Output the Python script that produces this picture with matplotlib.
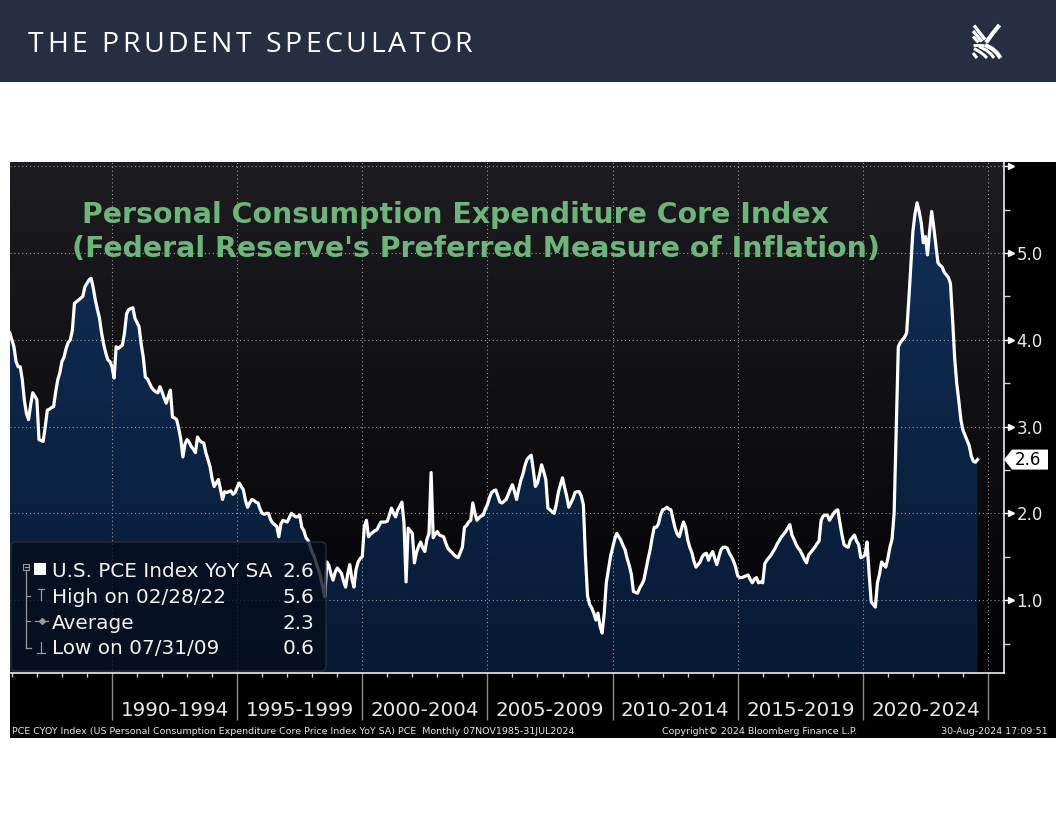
import numpy as np
import matplotlib
matplotlib.use("Agg")
import matplotlib.pyplot as plt
from matplotlib.patches import Rectangle, Polygon, FancyBboxPatch
from matplotlib.lines import Line2D
from matplotlib.colors import LinearSegmentedColormap
from matplotlib.transforms import blended_transform_factory, ScaledTranslation, Affine2D

# ---------------- data (monthly core PCE YoY %, Nov 1985 - Jul 2024) ----------------
pce_1985_1989 = [
    4.08, 4.00,
    3.92, 3.75, 3.69, 3.69, 3.54, 3.30, 3.15, 3.08, 3.25, 3.39, 3.35, 3.31,
    2.85, 2.84, 2.83, 3.00, 3.19, 3.20, 3.22, 3.23, 3.40, 3.54, 3.62, 3.75,
    3.80, 3.90, 3.97, 4.00, 4.11, 4.42, 4.44, 4.46, 4.48, 4.50, 4.61, 4.65,
    4.69, 4.71, 4.60, 4.46, 4.35, 4.25, 4.08, 3.95, 3.85, 3.77, 3.75, 3.69,
]
pce_1990_1994 = [
    3.56, 3.92, 3.90, 3.92, 3.94, 4.08, 4.30, 4.35, 4.36, 4.37, 4.25, 4.20,
    4.15, 3.95, 3.80, 3.57, 3.55, 3.50, 3.45, 3.42, 3.40, 3.39, 3.46, 3.40,
    3.33, 3.27, 3.35, 3.42, 3.11, 3.10, 3.08, 2.98, 2.85, 2.65, 2.80, 2.85,
    2.82, 2.77, 2.74, 2.70, 2.88, 2.84, 2.82, 2.81, 2.70, 2.62, 2.54, 2.40,
    2.31, 2.35, 2.39, 2.28, 2.16, 2.25, 2.24, 2.25, 2.26, 2.22, 2.24, 2.30,
]
pce_1995_1999 = [
    2.35, 2.31, 2.27, 2.15, 2.07, 2.12, 2.16, 2.15, 2.13, 2.12, 2.05, 2.00,
    1.99, 2.00, 2.00, 1.93, 1.89, 1.87, 1.85, 1.73, 1.88, 1.92, 1.91, 1.90,
    1.95, 2.00, 1.98, 1.96, 1.96, 1.98, 1.84, 1.80, 1.72, 1.69, 1.62, 1.55,
    1.50, 1.42, 1.35, 1.27, 1.15, 1.04, 1.44, 1.40, 1.30, 1.23, 1.32, 1.37,
    1.34, 1.31, 1.22, 1.15, 1.30, 1.41, 1.25, 1.15, 1.35, 1.44, 1.48, 1.50,
]
pce_2000_2004 = [
    1.85, 1.92, 1.73, 1.76, 1.78, 1.80, 1.81, 1.86, 1.90, 1.90, 1.90, 1.91,
    1.98, 2.06, 2.00, 1.96, 2.04, 2.08, 2.13, 1.89, 1.21, 1.83, 1.80, 1.77,
    1.43, 1.55, 1.62, 1.67, 1.60, 1.56, 1.70, 1.77, 2.47, 1.72, 1.76, 1.79,
    1.75, 1.74, 1.73, 1.66, 1.60, 1.57, 1.55, 1.52, 1.50, 1.49, 1.55, 1.61,
    1.84, 1.86, 1.90, 1.92, 2.12, 2.00, 1.92, 1.95, 1.97, 1.98, 2.05, 2.10,
]
pce_2005_2009 = [
    2.18, 2.24, 2.26, 2.27, 2.20, 2.13, 2.12, 2.14, 2.16, 2.22, 2.28, 2.33,
    2.25, 2.16, 2.28, 2.38, 2.45, 2.55, 2.62, 2.65, 2.67, 2.50, 2.31, 2.35,
    2.45, 2.56, 2.48, 2.39, 2.06, 2.04, 2.02, 2.00, 2.10, 2.24, 2.33, 2.41,
    2.30, 2.20, 2.07, 2.12, 2.17, 2.24, 2.25, 2.25, 2.20, 2.10, 1.50, 1.05,
    0.95, 0.91, 0.85, 0.77, 0.85, 0.70, 0.62, 0.85, 1.20, 1.35, 1.50, 1.60,
]
pce_2010_2014 = [
    1.70, 1.77, 1.73, 1.69, 1.63, 1.58, 1.48, 1.40, 1.30, 1.10, 1.09, 1.08,
    1.14, 1.18, 1.23, 1.35, 1.47, 1.58, 1.72, 1.84, 1.84, 1.88, 1.98, 2.04,
    2.05, 2.07, 2.05, 2.04, 1.93, 1.83, 1.76, 1.73, 1.82, 1.90, 1.84, 1.70,
    1.61, 1.55, 1.45, 1.38, 1.41, 1.44, 1.50, 1.53, 1.54, 1.46, 1.52, 1.56,
    1.48, 1.41, 1.50, 1.58, 1.61, 1.61, 1.60, 1.54, 1.50, 1.45, 1.38, 1.28,
]
pce_2015_2019 = [
    1.26, 1.26, 1.27, 1.28, 1.29, 1.24, 1.20, 1.24, 1.26, 1.20, 1.21, 1.20,
    1.42, 1.46, 1.49, 1.52, 1.56, 1.60, 1.65, 1.69, 1.73, 1.76, 1.79, 1.83,
    1.87, 1.75, 1.70, 1.64, 1.60, 1.57, 1.52, 1.47, 1.43, 1.52, 1.55, 1.58,
    1.61, 1.65, 1.68, 1.92, 1.97, 1.98, 1.98, 1.92, 1.96, 2.00, 2.03, 2.04,
    1.89, 1.75, 1.64, 1.62, 1.61, 1.69, 1.72, 1.75, 1.68, 1.64, 1.49, 1.50,
]
pce_2020_2024 = [
    1.52, 1.67, 1.31, 0.98, 0.95, 0.92, 1.20, 1.30, 1.44, 1.41, 1.38, 1.48,
    1.61, 1.70, 2.00, 2.95, 3.92, 3.97, 4.00, 4.03, 4.08, 4.45, 4.85, 5.25,
    5.45, 5.58, 5.48, 5.35, 5.12, 5.19, 4.98, 5.25, 5.48, 5.30, 5.10, 4.89,
    4.86, 4.84, 4.78, 4.75, 4.72, 4.65, 4.25, 3.80, 3.50, 3.30, 3.08, 2.96,
    2.90, 2.84, 2.78, 2.66, 2.60, 2.59, 2.62,
]
first_month = 1985 + 11 / 12          # Nov 1985 (month-end position)

series_label = "U.S. PCE Index YoY SA"
legend_labels = ["High on 02/28/22", "Average", "Low on 07/31/09"]
period_edges = [1990, 1995, 2000, 2005, 2010, 2015, 2020, 2025]
period_labels = ["1990-1994", "1995-1999", "2000-2004", "2005-2009",
                 "2010-2014", "2015-2019", "2020-2024"]
year_ticks = list(range(1986, 2026))
y_ticks = [1, 2, 3, 4, 5, 6]
y_tick_labels = ["1.0", "2.0", "3.0", "4.0", "5.0", ""]
y_minor = [0.5, 1.5, 2.5, 3.5, 4.5, 5.5]

title_lines = ["Personal Consumption Expenditure Core Index",
               "(Federal Reserve's Preferred Measure of Inflation)"]
header_text = "THE PRUDENT SPECULATOR"
footer_left = ("PCE CYOY Index (US Personal Consumption Expenditure Core Price Index "
               "YoY SA) PCE  Monthly 07NOV1985-31JUL2024")
footer_mid = "Copyright\u00a9 2024 Bloomberg Finance L.P."
footer_right = "30-Aug-2024 17:09:51"

# ---------------- build ----------------
vals = np.array(pce_1985_1989 + pce_1990_1994 + pce_1995_1999 + pce_2000_2004 +
                pce_2005_2009 + pce_2010_2014 + pce_2015_2019 + pce_2020_2024)
t = first_month + np.arange(len(vals)) / 12.0

W, H = 1056, 816
fig = plt.figure(figsize=(W / 100, H / 100), dpi=100)
fig.patch.set_facecolor("white")
PX = Affine2D().scale(1, -1).translate(0, H)   # pixel coords, y downward

# header band and chart background
fig.add_artist(Rectangle((0, 0), W, 82, transform=PX, facecolor="#262e42",
                         edgecolor="none", zorder=-5))
fig.add_artist(Rectangle((10, 162), W - 10, 738 - 162, transform=PX,
                         facecolor="black", edgecolor="none", zorder=-5))

ax_l, ax_r, ax_t, ax_b = 10, 1004, 162, 673
ax = fig.add_axes([ax_l / W, 1 - ax_b / H, (ax_r - ax_l) / W, (ax_b - ax_t) / H])
xl, xr = 1985.925, 2025.64
yb, yt = 0.16, 6.05
ax.set_xlim(xl, xr)
ax.set_ylim(yb, yt)
ax.set_facecolor("black")

grad = np.linspace(0, 1, 256)[:, None]
bg_cmap = LinearSegmentedColormap.from_list("bg", ["#020204", "#1d1d21"])
ax.imshow(grad, extent=[xl, xr, yb, yt], origin="lower", cmap=bg_cmap,
          aspect="auto", zorder=0, interpolation="bicubic")

fill_cmap = LinearSegmentedColormap.from_list("fill", ["#071a34", "#11305a"])
fim = ax.imshow(grad, extent=[xl, xr, yb, yt], origin="lower", cmap=fill_cmap,
                aspect="auto", zorder=1, interpolation="bicubic")
verts = [(t[0], yb)] + list(zip(t, vals)) + [(t[-1], yb)]
clip_poly = Polygon(verts, closed=True, facecolor="none", edgecolor="none",
                    transform=ax.transData)
ax.add_patch(clip_poly)
fim.set_clip_path(clip_poly)

# dotted grid
for yv in y_ticks:
    ax.axhline(yv, color="#9a9a9a", lw=0.8, ls=(0, (1, 2.5)), zorder=2)
for xv in period_edges:
    ax.axvline(xv, color="#9a9a9a", lw=0.8, ls=(0, (1, 2.5)), zorder=2)

ax.plot(t, vals, color="white", lw=2.3, zorder=3, solid_joinstyle="round")
ax.set_xlim(xl, xr)
ax.set_ylim(yb, yt)

# spines
for s in ["top", "left"]:
    ax.spines[s].set_visible(False)
for s in ["right", "bottom"]:
    ax.spines[s].set_color("white")
    ax.spines[s].set_linewidth(1.1)

# x ticks
ax.set_xticks(period_edges)
ax.set_xticks([y for y in year_ticks if y not in period_edges], minor=True)
ax.tick_params(axis="x", which="major", length=34, width=1, color="#8a8a8a",
               labelbottom=False, direction="out")
ax.tick_params(axis="x", which="minor", length=3, width=1, color="#d0d0d0",
               direction="out")
xlab_tr = blended_transform_factory(ax.transData, PX)
for i, lab in enumerate(period_labels):
    mid = (period_edges[i] + period_edges[i + 1]) / 2
    ax.text(mid, 716, lab, transform=xlab_tr, ha="center", va="baseline",
            fontsize=14.3, color="#e6e6e6", family="DejaVu Sans", clip_on=False)

# y ticks on the right
ax.yaxis.set_ticks_position("right")
ax.set_yticks(y_ticks)
ax.set_yticklabels(y_tick_labels)
ax.set_yticks(y_minor, minor=True)
ax.tick_params(axis="y", which="major", length=5, width=1, color="white",
               labelcolor="#e8e8e8", labelsize=12, pad=4, right=True, left=False,
               labelright=True, labelleft=False, direction="out")
ax.tick_params(axis="y", which="minor", length=4, width=1, color="#d0d0d0",
               right=True, left=False, direction="out")
ytr = blended_transform_factory(ax.transAxes, ax.transData)
ax.plot([1 + 7 / 994] * len(y_ticks), y_ticks, transform=ytr, ls="none",
        marker=">", ms=4.5, color="white", clip_on=False, zorder=6)

# last value tag
last = vals[-1]
tag = Polygon([(0, 0), (8, 10), (44, 10), (44, -10), (8, -10)], closed=True,
              facecolor="white", edgecolor="none",
              transform=Affine2D() + ScaledTranslation(1.0, last, ytr),
              clip_on=False, zorder=7)
ax.add_patch(tag)
ax.annotate(f"{last:.1f}", xy=(1.0, last), xycoords=ytr, xytext=(11, 0),
            textcoords="offset pixels", ha="left", va="center", fontsize=12,
            color="black", annotation_clip=False, zorder=8)

# title
green = "#6cb679"
fig.text(82, 223, title_lines[0], transform=PX, fontsize=20.4, fontweight="bold",
         family="DejaVu Sans", color=green, va="baseline", ha="left")
fig.text(72, 257, title_lines[1], transform=PX, fontsize=20.4, fontweight="bold",
         family="DejaVu Sans", color=green, va="baseline", ha="left")

# legend box
fig.add_artist(FancyBboxPatch((11, 542), 315, 129,
                              boxstyle="round,pad=0,rounding_size=5",
                              transform=PX, facecolor="#050d1a", alpha=0.78,
                              edgecolor="#2c3342", lw=1.0, zorder=5))
stats = [vals.max(), vals.mean(), vals.min()]
rows_y = [577, 603, 629, 654]
lkw = dict(transform=PX, fontsize=14.4, color="#f2f2f2", family="DejaVu Sans",
           va="baseline", zorder=6)
fig.text(52, rows_y[0], series_label, ha="left", **lkw)
fig.text(314, rows_y[0], f"{last:.1f}", ha="right", **lkw)
for lab, v, yy in zip(legend_labels, stats, rows_y[1:]):
    fig.text(52, yy, lab, ha="left", **lkw)
    fig.text(314, yy, f"{v:.1f}", ha="right", **lkw)

icon = "#9a9a9a"
def pline(xs, ys, c=icon, lw=0.9, **kw):
    fig.add_artist(Line2D(xs, ys, transform=PX, color=c, lw=lw, zorder=6, **kw))
fig.add_artist(Rectangle((23, 564), 6, 6, transform=PX, facecolor="none",
                         edgecolor=icon, lw=0.8, zorder=6))
pline([24.5, 27.5], [567, 567])
fig.add_artist(Rectangle((34, 563), 12, 12, transform=PX, facecolor="white",
                         edgecolor="none", zorder=6))
pline([26, 26], [570, 648])
pline([26, 30], [596, 596])
pline([26, 30], [621, 621])
pline([26, 31], [648, 648])
pline([38, 44], [589, 589])
pline([41, 41], [589, 600])
pline([35, 48], [621, 621])
pline([41.5], [621], marker="D", ms=3, ls="none")
pline([41, 41], [642, 653])
pline([37, 45], [653, 653])

# footer
fkw = dict(transform=PX, fontsize=6.8, color="#e6e6e6", family="DejaVu Sans",
           va="baseline")
fig.text(12, 734, footer_left, ha="left", **fkw)
fig.text(662, 734, footer_mid, ha="left", **fkw)
fig.text(1048, 734, footer_right, ha="right", **fkw)

# header text with letter tracking
renderer = fig.canvas.get_renderer()
hkw = dict(fontsize=20.5, family=["Open Sans", "DejaVu Sans"], color="white")
def advance(s):
    a = fig.text(0, 0, s + "|", transform=PX, **hkw)
    b = fig.text(0, 0, "|", transform=PX, **hkw)
    w = a.get_window_extent(renderer).width - b.get_window_extent(renderer).width
    a.remove(); b.remove()
    return w
natural = advance(header_text)
track = (444 - natural) / (len(header_text) - 1)
for k, ch in enumerate(header_text):
    if ch == " ":
        continue
    fig.text(28 + advance(header_text[:k]) + k * track, 52.5, ch, transform=PX,
             va="baseline", ha="left", **hkw)

# logo (stylised striped K)
def stroke(xs, ys, lw=2.2):
    fig.add_artist(Line2D(xs, ys, transform=PX, color="white", lw=lw,
                          solid_capstyle="butt", solid_joinstyle="round", zorder=6))
stroke([974, 985], [25.5, 39.5], lw=2.4)
stroke([973, 982], [31, 41.5], lw=2.4)
stroke([973, 978.5], [36.5, 42.5], lw=2.2)
stroke([999.5, 993, 986], [25, 33, 42.5], lw=3.0)
stroke([973, 984], [44.5, 44.5], lw=2.0)
stroke([985, 992, 997, 1000.5], [45, 48.5, 53, 58], lw=3.0)
stroke([979, 986, 991, 994], [46.5, 50, 54, 58], lw=2.2)
stroke([974, 980, 984, 987], [48.5, 52, 55, 58], lw=2.2)
stroke([973, 975, 977], [53, 55.5, 58], lw=2.2)

fig.savefig("out.png", dpi=100, facecolor=fig.get_facecolor())
